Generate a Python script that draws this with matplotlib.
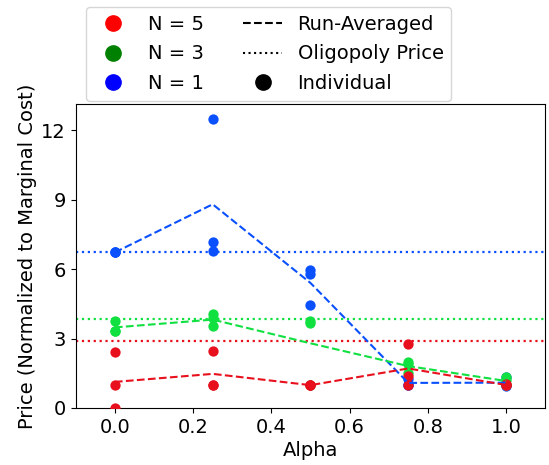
import matplotlib
matplotlib.use("Agg")
import matplotlib.pyplot as plt
from matplotlib.lines import Line2D
import numpy as np

alphas = [0.0, 0.25, 0.5, 0.75, 1.0]
# individual run prices (3 runs per alpha)
n5_runs = [[2.40, 0.98, 0.0], [2.46, 0.98, 0.98], [0.98, 0.98, 1.00], [2.76, 1.38, 0.98], [0.98, 0.98, 1.02]]
n3_runs = [[3.77, 3.34, 3.33], [4.04, 3.87, 3.54], [3.75, 3.65, 0.98], [2.00, 1.90, 1.53], [1.32, 1.20, 0.98]]
n1_runs = [[6.72, 6.72, 6.72], [12.47, 7.15, 6.77], [5.95, 5.80, 4.45], [1.25, 1.00, 1.00], [1.35, 0.98, 0.95]]
oligopoly = {"N = 5": 2.89, "N = 3": 3.84, "N = 1": 6.72}

series = [("N = 1", n1_runs, "#0a50ff", "blue"),
          ("N = 3", n3_runs, "#10e040", "green"),
          ("N = 5", n5_runs, "#e8101c", "red")]

fig = plt.figure(figsize=(5.49, 4.65), dpi=100)
ax = fig.add_axes([0.138, 0.1226, 0.855, 0.6534])

for name, runs, col, _ in series:
    runs = np.array(runs)
    for j in range(runs.shape[1]):
        ax.scatter(alphas, runs[:, j], color=col, s=55, zorder=3, linewidths=0)
    ax.plot(alphas, runs.mean(axis=1), linestyle="--", color=col, linewidth=1.5, zorder=4)
    ax.axhline(oligopoly[name], linestyle=":", color=col, linewidth=1.6, zorder=2)

ax.set_xlim(-0.1, 1.1)
ax.set_ylim(0, 13.12)
ax.set_yticks([0, 3, 6, 9, 12])
ax.set_xticks([0.0, 0.2, 0.4, 0.6, 0.8, 1.0])
ax.tick_params(labelsize=14)
ax.set_xlabel("Alpha", fontsize=14, labelpad=3)
ax.set_ylabel("Price (Normalized to Marginal Cost)", fontsize=14, labelpad=3)

handles = [
    Line2D([], [], marker="o", linestyle="none", color="red", markersize=11),
    Line2D([], [], marker="o", linestyle="none", color="green", markersize=11),
    Line2D([], [], marker="o", linestyle="none", color="blue", markersize=11),
    Line2D([], [], linestyle="--", color="black", linewidth=1.5),
    Line2D([], [], linestyle=":", color="black", linewidth=1.5),
    Line2D([], [], marker="o", linestyle="none", color="black", markersize=11),
]
labels = ["N = 5", "N = 3", "N = 1", "Run-Averaged", "Oligopoly Price", "Individual"]
fig.legend(handles, labels, ncol=2, loc="upper left",
           bbox_to_anchor=(86 / 549, 1 - 7 / 465), bbox_transform=fig.transFigure,
           borderaxespad=0, fontsize=14, handlelength=2.0, columnspacing=2.0,
           labelspacing=0.55)

fig.savefig("out.png", dpi=100)
